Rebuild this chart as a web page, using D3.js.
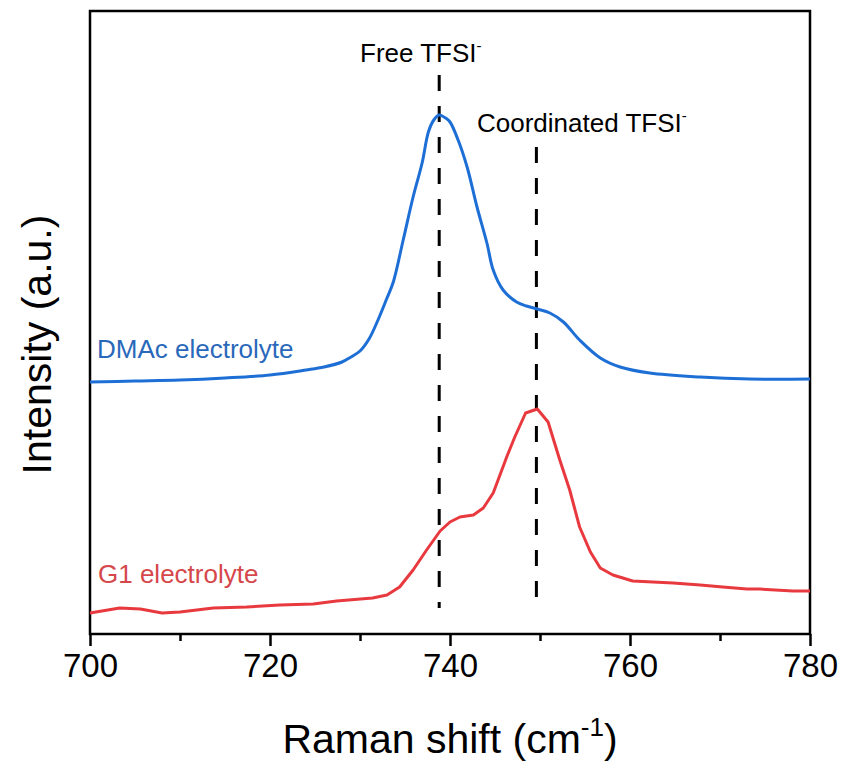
<!DOCTYPE html>
<html>
<head>
<meta charset="utf-8">
<script src="https://cdn.jsdelivr.net/npm/d3@7/dist/d3.min.js"></script>
<style>
  html, body { margin: 0; padding: 0; background: #fff; }
  svg { display: block; }
  text { font-family: "Liberation Sans", Arial, sans-serif; }
</style>
</head>
<body>
<svg id="chart" width="845" height="769"></svg>
<script>
// ---- data (Raman shift, cm^-1 ; intensity in arbitrary units) ----
const dmacShift = [700, 705, 710, 715, 720, 724, 726, 728, 729, 730, 731, 732, 733, 733.7, 734.8, 735.9, 736.9, 737.6, 738.2, 738.8, 739.5, 740, 740.9, 741.9, 743, 744.1, 744.8, 745.9, 747.4, 748.5, 749.7, 751.1, 752.6, 754.4, 756.7, 758.9, 762.2, 767.8, 773.3, 780];
const dmacIntensity = [252, 253, 254, 256, 259, 264, 267, 272, 277, 283, 295, 314, 336, 352, 394, 437, 471, 502, 514, 519, 516, 512, 494, 467, 427, 391, 364, 344, 332, 328, 325, 321, 312, 294, 276, 267, 261, 257, 255, 255];

const g1Shift = [700, 703.3, 705.6, 708, 710, 713.7, 717.4, 721.1, 724.8, 727.4, 731.4, 733, 734.4, 735.9, 737.4, 738.9, 740, 741.1, 742.6, 743.7, 744.8, 746.3, 747.2, 748.4, 749.7, 750.9, 752.2, 753.3, 754.4, 755.6, 756.7, 758.1, 760.3, 764.8, 767.8, 770.3, 773, 774.4, 778.1, 780];
const g1Intensity = [21, 26, 25, 21, 22, 26, 27, 29, 30, 33, 36, 39, 47, 64, 84, 103, 112, 117, 119, 126, 141, 177, 197, 221, 225, 212, 174, 144, 107, 82, 66, 59, 53, 51, 49, 47, 45, 45, 43, 43];

const seriesNames = ["DMAc electrolyte", "G1 electrolyte"];
const markerShift = [738.8, 749.6];
const markerTop = [559, 487];
const markerBottom = [26, 37];
const markerLabels = ["Free TFSI", "Coordinated TFSI"];
const xTicksMajor = [700, 720, 740, 760, 780];
const xTicksMinor = [710, 730, 750, 770];
const xDomain = [700, 780];
const yDomain = [0, 623];

// ---- layout ----
const svg = d3.select("#chart");
const L = 90, R = 810, T = 11, B = 634;
const x = d3.scaleLinear().domain(xDomain).range([L, R]);
const y = d3.scaleLinear().domain(yDomain).range([B, T]);

const blue = "#1d6fd6", blueText = "#2a68bb";
const red = "#e8393f", redText = "#d6474b";

// frame
svg.append("rect").attr("x", L).attr("y", T).attr("width", R - L).attr("height", B - T)
  .attr("fill", "none").attr("stroke", "#000").attr("stroke-width", 2.5);

// x axis
const gx = svg.append("g").attr("transform", `translate(0,${B})`);
gx.call(d3.axisBottom(x).tickValues(xTicksMajor).tickSize(12).tickPadding(8).tickFormat(d3.format("d")));
gx.select(".domain").remove();
gx.selectAll(".tick line").attr("stroke", "#000").attr("stroke-width", 2.5);
gx.selectAll(".tick text").attr("font-size", 33).attr("fill", "#000")
  .style("font-family", "'Liberation Sans', Arial, sans-serif");
const gxm = svg.append("g").attr("transform", `translate(0,${B})`);
gxm.call(d3.axisBottom(x).tickValues(xTicksMinor).tickSize(7).tickFormat(""));
gxm.select(".domain").remove();
gxm.selectAll(".tick line").attr("stroke", "#000").attr("stroke-width", 2.5);

// axis titles
const xt = svg.append("text").attr("x", (L + R) / 2).attr("y", 753)
  .attr("text-anchor", "middle").attr("font-size", 41).attr("fill", "#000");
xt.append("tspan").text("Raman shift (cm");
xt.append("tspan").attr("font-size", 26).attr("dy", -17).text("-1");
xt.append("tspan").attr("dy", 17).text(")");

svg.append("text").attr("transform", `translate(51,${(T + B) / 2 + 22}) rotate(-90)`)
  .attr("text-anchor", "middle").attr("font-size", 41).attr("fill", "#000")
  .text("Intensity (a.u.)");

// dashed marker lines
markerShift.forEach((s, i) => {
  svg.append("line").attr("x1", x(s)).attr("x2", x(s))
    .attr("y1", y(markerTop[i])).attr("y2", y(markerBottom[i]))
    .attr("stroke", "#000").attr("stroke-width", 3).attr("stroke-dasharray", "16,15");
});

// spectra
const dmac = dmacShift.map((s, i) => [s, dmacIntensity[i]]);
const g1 = g1Shift.map((s, i) => [s, g1Intensity[i]]);
svg.append("path").datum(dmac)
  .attr("d", d3.line().x(d => x(d[0])).y(d => y(d[1])).curve(d3.curveCatmullRom.alpha(0.5)))
  .attr("fill", "none").attr("stroke", blue).attr("stroke-width", 3);
svg.append("path").datum(g1)
  .attr("d", d3.line().x(d => x(d[0])).y(d => y(d[1])).curve(d3.curveLinear))
  .attr("fill", "none").attr("stroke", red).attr("stroke-width", 3).attr("stroke-linejoin", "round");

// annotation labels
function supLabel(xx, yy, txt) {
  const t = svg.append("text").attr("x", xx).attr("y", yy).attr("font-size", 26).attr("fill", "#000");
  t.append("tspan").text(txt);
  t.append("tspan").attr("font-size", 15).attr("dy", -11).text("-");
}
supLabel(360, 62, markerLabels[0]);
supLabel(477, 132, markerLabels[1]);

svg.append("text").attr("x", 97).attr("y", 358).attr("font-size", 26).attr("fill", blueText).text(seriesNames[0]);
svg.append("text").attr("x", 98).attr("y", 583).attr("font-size", 26).attr("fill", redText).text(seriesNames[1]);
</script>
</body>
</html>
